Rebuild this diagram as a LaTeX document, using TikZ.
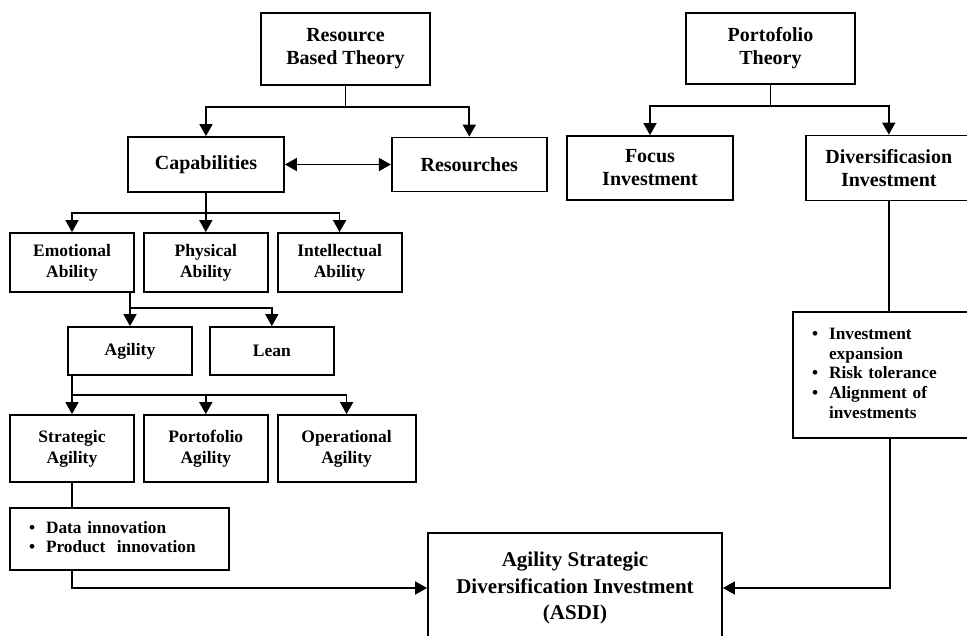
\documentclass[tikz,border=0pt]{standalone}
\usepackage{fontspec}
\setmainfont{Liberation Serif}
\usetikzlibrary{arrows.meta, positioning, calc}
\tikzset{
  box/.style={rectangle, draw=black, line width=1.8pt, align=center,
    inner sep=2pt, font=\bfseries\fontsize{20pt}{23pt}\selectfont},
  subbox/.style={box, minimum width=124pt,
    font=\bfseries\fontsize{17.5pt}{21pt}\selectfont},
  listbox/.style={rectangle, draw=black, line width=1.8pt, align=left,
    inner sep=0pt, font=\bfseries\fontsize{17.3pt}{19.7pt}\selectfont},
  goalbox/.style={box, font=\bfseries\fontsize{21pt}{26.5pt}\selectfont},
  arrow/.style={-{Triangle[width=13pt,length=12pt]}, line width=1.7pt},
  dblarrow/.style={{Triangle[width=13pt,length=12pt]}-{Triangle[width=13pt,length=12pt]}, line width=1.7pt},
  line/.style={line width=1.7pt}
}
\begin{document}
\begin{tikzpicture}[x=1pt, y=1pt]
  \useasboundingbox (0,0) rectangle (967,-635);

  % theories
  \node[box, minimum width=169pt, minimum height=72pt] (rbt) at (345.5,-49) {Resource\\Based Theory};
  \node[box, minimum width=169pt, minimum height=71pt] (pt) at (770.5,-48.5) {Portofolio\\Theory};

  \node[box, minimum width=156pt, minimum height=55pt] (cap) at (206,-164.5) {Capabilities};
  \node[box, minimum width=155pt, minimum height=54pt, right=106pt of cap] (res) {Resourches};
  \node[box, minimum width=166pt, minimum height=64pt] (foc) at (650,-168) {Focus\\Investment};
  \node[box, minimum width=166pt, minimum height=65pt, right=71pt of foc] (div) {Diversificasion\\Investment};

  % abilities
  \node[subbox, minimum height=59pt] (emo) at (72,-262.5) {Emotional\\Ability};
  \node[subbox, minimum height=59pt, right=8pt of emo] (phy) {Physical\\Ability};
  \node[subbox, minimum height=59pt, right=8pt of phy] (int) {Intellectual\\Ability};

  \node[subbox, minimum height=48pt] (agi) at (130,-351) {Agility};
  \node[subbox, minimum height=48pt, right=16pt of agi] (lean) {Lean};

  \node[subbox, minimum height=67pt] (str) at (72,-448.5) {Strategic\\Agility};
  \node[subbox, minimum height=67pt, right=8pt of str] (por) {Portofolio\\Agility};
  \node[subbox, minimum width=138pt, minimum height=67pt, right=8pt of por] (ope) {Operational\\Agility};

  % lists
  \node[listbox, text width=219pt, minimum height=62pt] (dat) at (119.5,-539) {%
    \begin{tabular}{@{\hspace{19pt}}l@{\hspace{11pt}}l@{}}
      \textbullet & Data innovation\\
      \textbullet & Product~ innovation
    \end{tabular}};
  \node[listbox, text width=194pt, minimum height=126pt] (inv) at (890,-375) {%
    \begin{tabular}{@{\hspace{19pt}}l@{\hspace{11pt}}l@{}}
      \textbullet & Investment\\
                  & expansion\\
      \textbullet & Risk tolerance\\
      \textbullet & Alignment of\\
                  & investments
    \end{tabular}};

  \node[goalbox, minimum width=294pt, minimum height=110pt] (asdi) at (575,-588) {Agility Strategic\\Diversification Investment\\(ASDI)};

  % connectors
  \draw[line] (rbt.south) -- ++(0,-21) coordinate (rbtfork);
  \draw[arrow] (rbtfork) -| (cap.north);
  \draw[arrow] (rbtfork) -| (res.north);
  \draw[dblarrow] (cap.east) -- (cap.east -| res.west);

  \draw[line] (pt.south) -- ++(0,-21) coordinate (ptfork);
  \draw[arrow] (ptfork) -| (foc.north);
  \draw[arrow] (ptfork) -| (div.north);

  \draw[line] (cap.south) -- ++(0,-20) coordinate (capfork);
  \draw[arrow] (capfork) -| (emo.north);
  \draw[arrow] (capfork) -- (capfork -| phy.north) -- (phy.north);
  \draw[arrow] (capfork) -| (int.north);

  \draw[line] (agi.north |- emo.south) -- ++(0,-15) coordinate (emofork);
  \draw[arrow] (emofork) -- (agi.north);
  \draw[arrow] (emofork) -| (lean.north);

  \draw[line] (str.north |- agi.south) -- ++(0,-19) coordinate (agifork);
  \draw[arrow] (agifork) -- (str.north);
  \draw[arrow] (agifork) -| (por.north);
  \draw[arrow] (agifork) -| (ope.north);

  \draw[line] (str.south) -- (str.south |- dat.north);
  \draw[arrow] (str.south |- dat.south) |- (asdi.west);

  \draw[line] (div.south) -- (div.south |- inv.north);
  \draw[arrow] (inv.south) |- (asdi.east);
\end{tikzpicture}
\end{document}
